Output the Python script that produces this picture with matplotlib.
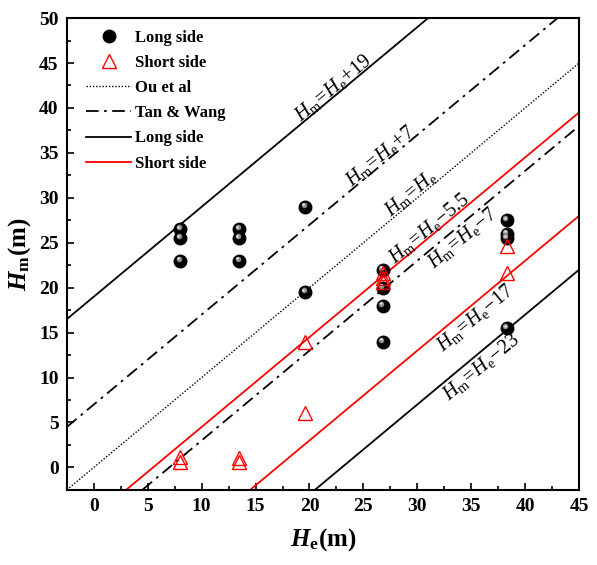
import matplotlib
matplotlib.use("Agg")
import matplotlib.pyplot as plt
import matplotlib.transforms as mtransforms
from matplotlib.lines import Line2D

plt.rcParams['font.family'] = ['Liberation Serif', 'DejaVu Serif']
plt.rcParams['mathtext.fontset'] = 'custom'
plt.rcParams['mathtext.rm'] = 'Liberation Serif'
plt.rcParams['mathtext.it'] = 'Liberation Serif:italic'
plt.rcParams['mathtext.bf'] = 'Liberation Serif:bold'
plt.rcParams['mathtext.bfit'] = 'Liberation Serif:italic:bold'

# measured points
long_x = [8, 8, 8, 13.5, 13.5, 13.5, 19.6, 19.6, 26.8, 26.8, 26.8, 26.8, 38.3, 38.3, 38.3, 38.3]
long_y = [26.5, 25.5, 23.0, 26.5, 25.5, 23.0, 29.0, 19.5, 22.0, 20.0, 18.0, 14.0, 27.5, 26.0, 25.5, 15.5]

short_x = [8, 8, 13.5, 13.5, 19.6, 19.6, 26.8, 26.8, 26.8, 38.3, 38.3]
short_y = [1.2, 0.6, 1.1, 0.6, 14.0, 6.0, 21.6, 21.1, 20.6, 24.6, 21.6]

# Hm = He + c lines
ou_offsets = [0]
tan_offsets = [7, -7]
long_offsets = [19, -23]
short_offsets = [-5.5, -17]

# labels along the lines: (text, He position along line, line offset c, side)
line_labels = [
    (r'$H_\mathrm{m}\!=\!H_\mathrm{e}\!+\!19$', 22.6, 19, 'above'),
    (r'$H_\mathrm{m}\!=\!H_\mathrm{e}\!+\!7$', 27.0, 7, 'above'),
    (r'$H_\mathrm{m}\!=\!H_\mathrm{e}$', 29.8, 0, 'above'),
    (r'$H_\mathrm{m}\!=\!H_\mathrm{e}\!-\!5.5$', 31.5, -5.5, 'above'),
    (r'$H_\mathrm{m}\!=\!H_\mathrm{e}\!-\!7$', 33.5, -7, 'below'),
    (r'$H_\mathrm{m}\!=\!H_\mathrm{e}\!-\!17$', 34.7, -17, 'below'),
    (r'$H_\mathrm{m}\!=\!H_\mathrm{e}\!-\!23$', 35.2, -23, 'below'),
]

fig = plt.figure(figsize=(5.97, 5.65), dpi=100)
ax = fig.add_axes([0.112, 0.133, 0.858, 0.835])
ax.set_xlim(-2.5, 45)
ax.set_ylim(-2.5, 50)

for c in ou_offsets:
    ax.axline((0, c), slope=1, color='black', lw=1.0, ls=(0, (1, 1.3)))
for c in tan_offsets:
    ax.axline((0, c), slope=1, color='black', lw=1.3, ls=(0, (7, 3, 1.5, 3)))
for c in long_offsets:
    ax.axline((0, c), slope=1, color='black', lw=1.3)
for c in short_offsets:
    ax.axline((0, c), slope=1, color='red', lw=1.3)

# sphere-like markers: black ball with a soft highlight
ax.plot(long_x, long_y, 'o', color='black', ms=9, zorder=4)
hl = mtransforms.offset_copy(ax.transData, fig=fig, x=-1.1, y=1.3, units='points')
ax.plot(long_x, long_y, 'o', color='#8c8c8c', ms=4, mec='none', transform=hl, zorder=5)
hl2 = mtransforms.offset_copy(ax.transData, fig=fig, x=-1.4, y=1.7, units='points')
ax.plot(long_x, long_y, 'o', color='#e6e6e6', ms=1.8, mec='none', transform=hl2, zorder=6)

ax.plot(short_x, short_y, '^', mfc='none', mec='red', ms=10, mew=1.0, zorder=7)

# perpendicular offset of labels from their line (screen direction normal to slope 1)
nx, ny = -0.64, 0.768
for txt, x, c, side in line_labels:
    if side == 'above':
        d, va = 1.5, 'baseline'
    else:
        d, va = -1.0, 'top'
    tr = mtransforms.offset_copy(ax.transData, fig=fig, x=nx * d, y=ny * d, units='points')
    ax.text(x, x + c, txt, fontsize=14.5, rotation=45, transform_rotates_text=True,
            ha='center', va=va, rotation_mode='anchor', transform=tr, zorder=8)

ax.set_xticks(range(0, 46, 5))
ax.set_yticks(range(0, 51, 5))
ax.set_xticks([x + 2.5 for x in range(-5, 45, 5)], minor=True)
ax.set_yticks([y + 2.5 for y in range(-5, 50, 5)], minor=True)
ax.tick_params(which='both', direction='in', top=False, right=False, width=1.2)
ax.tick_params(which='major', length=5, labelsize=14, pad=6)
ax.tick_params(which='minor', length=3)
for lab in ax.get_xticklabels() + ax.get_yticklabels():
    lab.set_fontweight('bold')
for sp in ax.spines.values():
    sp.set_linewidth(1.5)

ax.set_xlabel(r'$\mathbfit{H}_\mathbf{e}$(m)', fontsize=18, fontweight='bold', labelpad=8)
ax.set_ylabel(r'$\mathbfit{H}_\mathbf{m}$(m)', fontsize=18, fontweight='bold', labelpad=4)

handles = [
    Line2D([], [], ls='none', marker='o', color='black', ms=9),
    Line2D([], [], ls='none', marker='^', mfc='none', mec='red', ms=10, mew=1.0),
    Line2D([], [], color='black', lw=1.0, ls=(0, (1, 1.3))),
    Line2D([], [], color='black', lw=1.3, ls=(0, (7, 3, 1.5, 3))),
    Line2D([], [], color='black', lw=1.3),
    Line2D([], [], color='red', lw=1.3),
]
names = ['Long side', 'Short side', 'Ou et al', 'Tan & Wang', 'Long side', 'Short side']
ax.legend(handles, names, loc='upper left', frameon=False, prop={'weight': 'bold', 'size': 12},
          handlelength=2.7, handletextpad=0.2, labelspacing=0.55, borderaxespad=0.3,
          bbox_to_anchor=(0.015, 1.0))

fig.savefig('out.png', dpi=100)
